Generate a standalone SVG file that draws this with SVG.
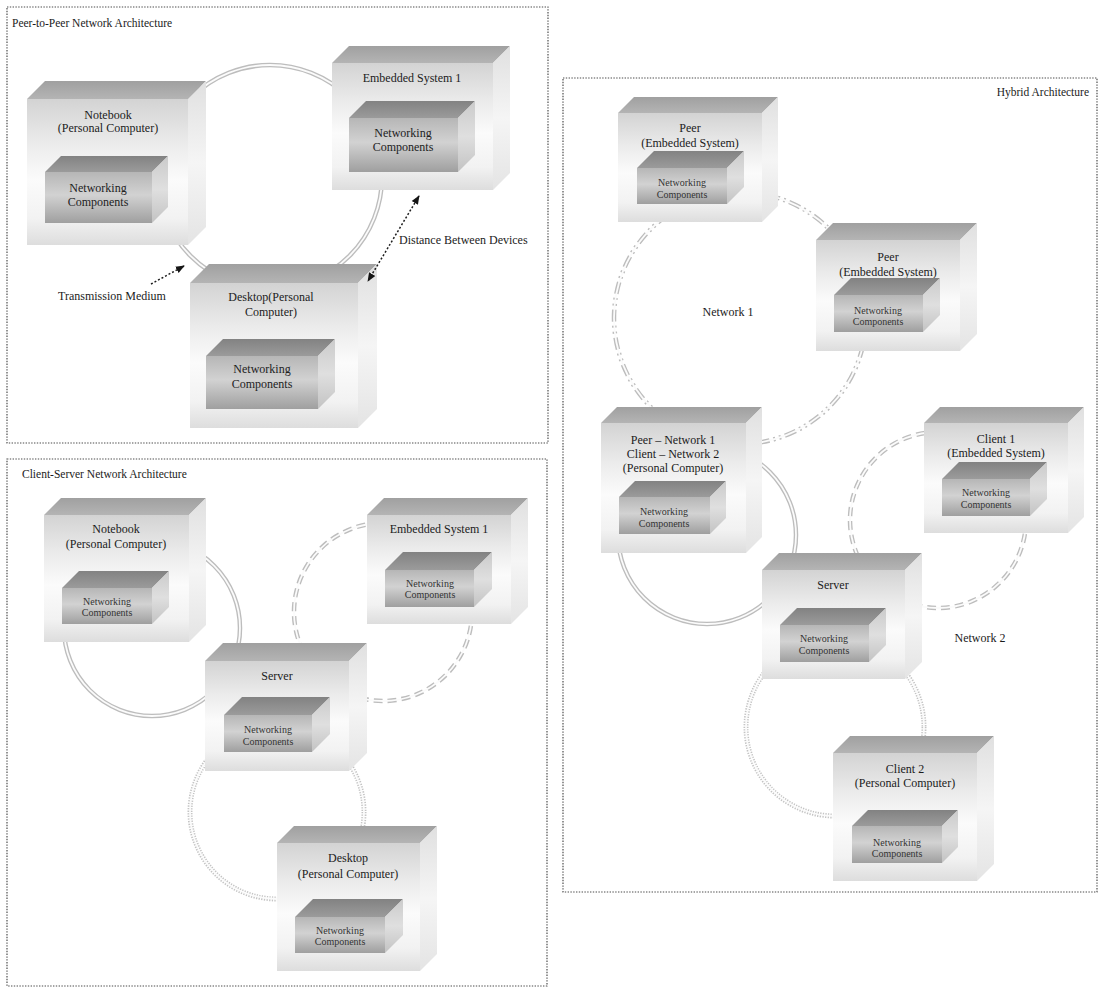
<svg xmlns="http://www.w3.org/2000/svg" width="1099" height="990" viewBox="0 0 1099 990">
  <defs>
    <!-- outer device box faces -->
    <linearGradient id="gOF" x1="0" y1="0" x2="0" y2="1">
      <stop offset="0" stop-color="#d3d3d3"/>
      <stop offset="0.3" stop-color="#ebebeb"/>
      <stop offset="0.55" stop-color="#fbfbfb"/>
      <stop offset="0.82" stop-color="#f2f2f2"/>
      <stop offset="1" stop-color="#dddddd"/>
    </linearGradient>
    <linearGradient id="gOT" x1="0" y1="0" x2="0" y2="1">
      <stop offset="0" stop-color="#a0a0a0"/>
      <stop offset="1" stop-color="#b4b4b4"/>
    </linearGradient>
    <linearGradient id="gOS" x1="0" y1="0" x2="0" y2="1">
      <stop offset="0" stop-color="#e0e0e0"/>
      <stop offset="0.5" stop-color="#f5f5f5"/>
      <stop offset="1" stop-color="#e4e4e4"/>
    </linearGradient>
    <!-- inner "networking components" box faces -->
    <linearGradient id="gIF" x1="0" y1="0" x2="0" y2="1">
      <stop offset="0" stop-color="#b6b6b6"/>
      <stop offset="0.45" stop-color="#d2d2d2"/>
      <stop offset="1" stop-color="#9f9f9f"/>
    </linearGradient>
    <linearGradient id="gIT" x1="0" y1="0" x2="0" y2="1">
      <stop offset="0" stop-color="#828282"/>
      <stop offset="1" stop-color="#9b9b9b"/>
    </linearGradient>
    <linearGradient id="gIS" x1="0" y1="0" x2="0" y2="1">
      <stop offset="0" stop-color="#cbcbcb"/>
      <stop offset="0.5" stop-color="#dfdfdf"/>
      <stop offset="1" stop-color="#c3c3c3"/>
    </linearGradient>
    <marker id="ah" viewBox="0 0 10 10" refX="9" refY="5" markerUnits="userSpaceOnUse" markerWidth="9" markerHeight="9" orient="auto-start-reverse">
      <path d="M0,1 L10,5 L0,9 z" fill="#151515"/>
    </marker>
    <style>
      .panel { fill:none; stroke:#4d4d4d; stroke-width:1.2; stroke-dasharray:1.4 1.4; }
      .oF { fill:url(#gOF); }
      .oT { fill:url(#gOT); }
      .oS { fill:url(#gOS); }
      .iF { fill:url(#gIF); }
      .iT { fill:url(#gIT); }
      .iS { fill:url(#gIS); }
      text { font-family:"Liberation Serif","Times New Roman",serif; fill:#1b1b1b; }
      .lbl { font-size:12px; text-anchor:middle; }
      .il { font-size:10px; text-anchor:middle; fill:#333333; }
      .il12 { font-size:12px; text-anchor:middle; fill:#222222; }
      .title { font-size:11.5px; }
      .note { font-size:12px; }
      .rO { fill:none; stroke:#bdbdbd; stroke-width:4.5; }
      .rI { fill:none; stroke:#fbfbfb; stroke-width:1.8; }
      .dash { stroke-dasharray:9 5; }
      .dot { stroke-dasharray:1.3 1.3; stroke-width:5; stroke:#c4c4c4; }
      .dd { stroke-dasharray:12 4 2 4 2 4; }
      .arr { fill:none; stroke:#1e1e1e; stroke-width:1.5; stroke-dasharray:2 2; }
    </style>
  </defs>

  <rect width="1099" height="990" fill="#ffffff"/>

  <!-- panel frames -->
  <g id="panels">
    <rect class="panel" x="7" y="7" width="541" height="436"/>
    <rect class="panel" x="7" y="459" width="540" height="527"/>
    <rect class="panel" x="563" y="78" width="534" height="814"/>
    <text class="title" x="12" y="27">Peer-to-Peer Network Architecture</text>
    <text class="title" x="22" y="478">Client-Server Network Architecture</text>
    <text class="title" x="1089" y="96" text-anchor="end">Hybrid Architecture</text>
  </g>

  <!-- transmission media (rings) and annotation arrows -->
  <g id="connectors">
    <!-- peer-to-peer ring -->
    <circle class="rO" cx="270" cy="177" r="112"/>
    <circle class="rI" cx="270" cy="177" r="112"/>
    <!-- client-server rings -->
    <circle class="rO" cx="152" cy="628" r="88"/>
    <circle class="rI" cx="152" cy="628" r="88"/>
    <circle class="rO dash" cx="383" cy="612" r="89"/>
    <circle class="rI" cx="383" cy="612" r="89"/>
    <circle class="rO dot" cx="277" cy="812" r="87"/>
    <circle class="rI" cx="277" cy="812" r="87" stroke-width="1.3"/>
    <!-- hybrid rings -->
    <circle class="rO dd" cx="740" cy="318" r="126"/>
    <circle class="rI" cx="740" cy="318" r="126"/>
    <circle class="rO" cx="707" cy="535" r="89"/>
    <circle class="rI" cx="707" cy="535" r="89"/>
    <circle class="rO dash" cx="938" cy="520" r="88"/>
    <circle class="rI" cx="938" cy="520" r="88"/>
    <circle class="rO dot" cx="835" cy="727" r="89"/>
    <circle class="rI" cx="835" cy="727" r="89" stroke-width="1.3"/>
  </g>

  <!-- Peer-to-peer panel -->
  <g id="p2p-notebook">
    <polygon class="oT" points="27,99 45,81 206,81 188,99"/>
    <polygon class="oS" points="188,99 206,81 206,227 188,245"/>
    <rect class="oF" x="27" y="99" width="161" height="146"/>
    <text class="lbl" x="108" y="119">Notebook</text>
    <text class="lbl" x="108" y="132">(Personal Computer)</text>
    <polygon class="iT" points="45,172 61,156 168,156 152,172"/>
    <polygon class="iS" points="152,172 168,156 168,207 152,223"/>
    <rect class="iF" x="45" y="172" width="107" height="51"/>
    <text class="il12" x="98" y="192">Networking</text>
    <text class="il12" x="98" y="206">Components</text>
  </g>
  <g id="p2p-embedded">
    <polygon class="oT" points="332,63 349,46 510,46 493,63"/>
    <polygon class="oS" points="493,63 510,46 510,173 493,190"/>
    <rect class="oF" x="332" y="63" width="161" height="127"/>
    <text class="lbl" x="412" y="82">Embedded System 1</text>
    <polygon class="iT" points="349,118 366,101 475,101 458,118"/>
    <polygon class="iS" points="458,118 475,101 475,155 458,172"/>
    <rect class="iF" x="349" y="118" width="109" height="54"/>
    <text class="il12" x="403" y="137">Networking</text>
    <text class="il12" x="403" y="151">Components</text>
  </g>
  <g id="p2p-desktop">
    <polygon class="oT" points="190,283 209,264 377,264 358,283"/>
    <polygon class="oS" points="358,283 377,264 377,409 358,428"/>
    <rect class="oF" x="190" y="283" width="168" height="145"/>
    <text class="lbl" x="271" y="301">Desktop(Personal</text>
    <text class="lbl" x="271" y="316">Computer)</text>
    <polygon class="iT" points="206,356 223,339 335,339 318,356"/>
    <polygon class="iS" points="318,356 335,339 335,392 318,409"/>
    <rect class="iF" x="206" y="356" width="112" height="53"/>
    <text class="il12" x="262" y="373">Networking</text>
    <text class="il12" x="262" y="388">Components</text>
  </g>
  <g id="p2p-notes">
    <line class="arr" x1="151" y1="284" x2="184" y2="266" marker-end="url(#ah)"/>
    <line class="arr" x1="419" y1="196" x2="368" y2="281" marker-start="url(#ah)" marker-end="url(#ah)"/>
    <text class="note" x="58" y="300">Transmission Medium</text>
    <text class="note" x="399" y="244">Distance Between Devices</text>
  </g>

  <!-- Client-server panel -->
  <g id="cs-notebook">
    <polygon class="oT" points="44,515 61,498 206,498 189,515"/>
    <polygon class="oS" points="189,515 206,498 206,625 189,642"/>
    <rect class="oF" x="44" y="515" width="145" height="127"/>
    <text class="lbl" x="116" y="533">Notebook</text>
    <text class="lbl" x="116" y="548">(Personal Computer)</text>
    <polygon class="iT" points="62,588 79,571 169,571 152,588"/>
    <polygon class="iS" points="152,588 169,571 169,607 152,624"/>
    <rect class="iF" x="62" y="588" width="90" height="36"/>
    <text class="il" x="107" y="605">Networking</text>
    <text class="il" x="107" y="616">Components</text>
  </g>
  <g id="cs-embedded">
    <polygon class="oT" points="367,515 384,498 528,498 511,515"/>
    <polygon class="oS" points="511,515 528,498 528,607 511,624"/>
    <rect class="oF" x="367" y="515" width="144" height="109"/>
    <text class="lbl" x="439" y="533">Embedded System 1</text>
    <polygon class="iT" points="385,570 403,552 492,552 474,570"/>
    <polygon class="iS" points="474,570 492,552 492,589 474,607"/>
    <rect class="iF" x="385" y="570" width="89" height="37"/>
    <text class="il" x="430" y="587">Networking</text>
    <text class="il" x="430" y="598">Components</text>
  </g>
  <g id="cs-server">
    <polygon class="oT" points="205,661 223,643 367,643 349,661"/>
    <polygon class="oS" points="349,661 367,643 367,753 349,771"/>
    <rect class="oF" x="205" y="661" width="144" height="110"/>
    <text class="lbl" x="277" y="680">Server</text>
    <polygon class="iT" points="224,715 242,697 330,697 312,715"/>
    <polygon class="iS" points="312,715 330,697 330,734 312,752"/>
    <rect class="iF" x="224" y="715" width="88" height="37"/>
    <text class="il" x="268" y="733">Networking</text>
    <text class="il" x="268" y="745">Components</text>
  </g>
  <g id="cs-desktop">
    <polygon class="oT" points="277,843 294,826 437,826 420,843"/>
    <polygon class="oS" points="420,843 437,826 437,954 420,971"/>
    <rect class="oF" x="277" y="843" width="143" height="128"/>
    <text class="lbl" x="348" y="862">Desktop</text>
    <text class="lbl" x="348" y="878">(Personal Computer)</text>
    <polygon class="iT" points="295,917 313,899 403,899 385,917"/>
    <polygon class="iS" points="385,917 403,899 403,935 385,953"/>
    <rect class="iF" x="295" y="917" width="90" height="36"/>
    <text class="il" x="340" y="934">Networking</text>
    <text class="il" x="340" y="945">Components</text>
  </g>

  <!-- Hybrid panel -->
  <g id="hy-peer1">
    <polygon class="oT" points="618,113 634,97 778,97 762,113"/>
    <polygon class="oS" points="762,113 778,97 778,206 762,222"/>
    <rect class="oF" x="618" y="113" width="144" height="109"/>
    <text class="lbl" x="690" y="132">Peer</text>
    <text class="lbl" x="690" y="147">(Embedded System)</text>
    <polygon class="iT" points="637,168 654,151 744,151 727,168"/>
    <polygon class="iS" points="727,168 744,151 744,187 727,204"/>
    <rect class="iF" x="637" y="168" width="90" height="36"/>
    <text class="il" x="682" y="186">Networking</text>
    <text class="il" x="682" y="198">Components</text>
  </g>
  <g id="hy-peer2">
    <polygon class="oT" points="816,240 833,223 977,223 960,240"/>
    <polygon class="oS" points="960,240 977,223 977,334 960,351"/>
    <rect class="oF" x="816" y="240" width="144" height="111"/>
    <text class="lbl" x="888" y="261">Peer</text>
    <text class="lbl" x="888" y="276">(Embedded System)</text>
    <polygon class="iT" points="834,295 851,278 940,278 923,295"/>
    <polygon class="iS" points="923,295 940,278 940,315 923,332"/>
    <rect class="iF" x="834" y="295" width="89" height="37"/>
    <text class="il" x="878" y="314">Networking</text>
    <text class="il" x="878" y="325">Components</text>
  </g>
  <g id="hy-peer-client">
    <polygon class="oT" points="601,423 617,407 762,407 746,423"/>
    <polygon class="oS" points="746,423 762,407 762,537 746,553"/>
    <rect class="oF" x="601" y="423" width="145" height="130"/>
    <text class="lbl" x="673" y="444">Peer – Network 1</text>
    <text class="lbl" x="673" y="458">Client – Network 2</text>
    <text class="lbl" x="673" y="472">(Personal Computer)</text>
    <polygon class="iT" points="619,497 635,481 726,481 710,497"/>
    <polygon class="iS" points="710,497 726,481 726,518 710,534"/>
    <rect class="iF" x="619" y="497" width="91" height="37"/>
    <text class="il" x="664" y="515">Networking</text>
    <text class="il" x="664" y="527">Components</text>
  </g>
  <g id="hy-client1">
    <polygon class="oT" points="924,423 940,407 1084,407 1068,423"/>
    <polygon class="oS" points="1068,423 1084,407 1084,517 1068,533"/>
    <rect class="oF" x="924" y="423" width="144" height="110"/>
    <text class="lbl" x="996" y="443">Client 1</text>
    <text class="lbl" x="996" y="457">(Embedded System)</text>
    <polygon class="iT" points="942,479 959,462 1047,462 1030,479"/>
    <polygon class="iS" points="1030,479 1047,462 1047,499 1030,516"/>
    <rect class="iF" x="942" y="479" width="88" height="37"/>
    <text class="il" x="986" y="496">Networking</text>
    <text class="il" x="986" y="508">Components</text>
  </g>
  <g id="hy-server">
    <polygon class="oT" points="762,570 779,553 922,553 905,570"/>
    <polygon class="oS" points="905,570 922,553 922,662 905,679"/>
    <rect class="oF" x="762" y="570" width="143" height="109"/>
    <text class="lbl" x="833" y="589">Server</text>
    <polygon class="iT" points="780,625 797,608 886,608 869,625"/>
    <polygon class="iS" points="869,625 886,608 886,645 869,662"/>
    <rect class="iF" x="780" y="625" width="89" height="37"/>
    <text class="il" x="824" y="642">Networking</text>
    <text class="il" x="824" y="654">Components</text>
  </g>
  <g id="hy-client2">
    <polygon class="oT" points="833,753 850,736 994,736 977,753"/>
    <polygon class="oS" points="977,753 994,736 994,864 977,881"/>
    <rect class="oF" x="833" y="753" width="144" height="128"/>
    <text class="lbl" x="905" y="773">Client 2</text>
    <text class="lbl" x="905" y="787">(Personal Computer)</text>
    <polygon class="iT" points="852,826 868,810 958,810 942,826"/>
    <polygon class="iS" points="942,826 958,810 958,847 942,863"/>
    <rect class="iF" x="852" y="826" width="90" height="37"/>
    <text class="il" x="897" y="846">Networking</text>
    <text class="il" x="897" y="857">Components</text>
  </g>
  <g id="hy-labels">
    <text class="note" x="728" y="316" text-anchor="middle">Network 1</text>
    <text class="note" x="980" y="642" text-anchor="middle">Network 2</text>
  </g>
</svg>
